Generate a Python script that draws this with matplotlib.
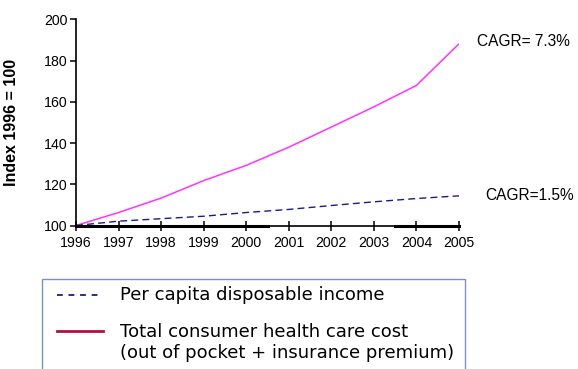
import matplotlib
matplotlib.use("Agg")
import matplotlib.pyplot as plt
from matplotlib.lines import Line2D
from matplotlib.patches import Rectangle

years = [1996, 1997, 1998, 1999, 2000, 2001, 2002, 2003, 2004, 2005]
health_cost = [100, 106.3, 113.3, 121.8, 129.2, 138.0, 147.8, 157.6, 168.0, 188.2]
income = [100, 102.1, 103.3, 104.5, 106.3, 107.8, 109.7, 111.5, 113.1, 114.4]
legend_labels = ["Per capita disposable income",
                 "Total consumer health care cost\n(out of pocket + insurance premium)"]
cagr_labels = ["CAGR= 7.3%", "CAGR=1.5%"]
yticks = [100, 120, 140, 160, 180, 200]

plt.rcParams['font.family'] = ['Liberation Sans', 'DejaVu Sans']

W, H = 578, 369
fig = plt.figure(figsize=(W/100, H/100), dpi=100)
ax = fig.add_axes([76/W, 1-225.5/H, (459-76)/W, (225.5-19.5)/H])

ax.plot(years, health_cost, color='#ff33ff', lw=1.1, solid_capstyle='butt')
ax.plot(years, income, color='#1a1a8c', lw=1.0, ls=(0, (5, 3)))
# thick baseline segments seen along the x axis
ax.axhline(yticks[0], xmin=0.0, xmax=0.5, color='black', lw=2.2, clip_on=False)
ax.axhline(yticks[0], xmin=0.833, xmax=1.0, color='black', lw=2.2, clip_on=False)

ax.set_xlim(years[0], years[-1])
ax.set_ylim(100, 200)
ax.set_xticks(years)
ax.set_yticks(yticks)
ax.spines['top'].set_visible(False)
ax.spines['right'].set_visible(False)
ax.spines['left'].set_linewidth(1.2)
ax.spines['bottom'].set_linewidth(1.2)
ax.tick_params(axis='x', direction='inout', length=7, width=1.1, labelsize=10.2, pad=4)
ax.tick_params(axis='y', direction='out', length=4, width=1.1, labelsize=10.2, pad=2)
ax.set_ylabel("Index 1996 = 100", fontsize=11.5, fontweight='bold')
ax.yaxis.set_label_coords((19 - 76)/383, 0.5)

ax.text(1.0 + (477-459)/383, 1 - (41.7-19.5)/206, cagr_labels[0], transform=ax.transAxes,
        fontsize=11.2, va='center', ha='left')
ax.text(1.0 + (485-459)/383, 1 - (195-19.5)/206, cagr_labels[1], transform=ax.transAxes,
        fontsize=11.2, va='center', ha='left')

# legend box (bottom edge falls outside the figure)
fig.patches.append(Rectangle((42/W, -0.05), (465-42)/W, 1.05 - 279/H,
                             transform=fig.transFigure, fill=False,
                             edgecolor='#7f8fbf', lw=1.0))
fig.add_artist(Line2D([57/W, 102/W], [1-295/H, 1-295/H], transform=fig.transFigure,
                      color='#1a1a8c', lw=1.3, ls=(0, (3.2, 3.2))))
fig.add_artist(Line2D([57/W, 103/W], [1-331/H, 1-331/H], transform=fig.transFigure,
                      color='#b0103a', lw=2.0))
fig.text(120/W, 1-295/H, legend_labels[0], fontsize=13, family='DejaVu Sans',
         va='center', ha='left')
fig.text(120/W, 1-342.5/H, legend_labels[1], fontsize=13, family='DejaVu Sans',
         va='center', ha='left', linespacing=1.2)

fig.savefig("out.png", dpi=100)
